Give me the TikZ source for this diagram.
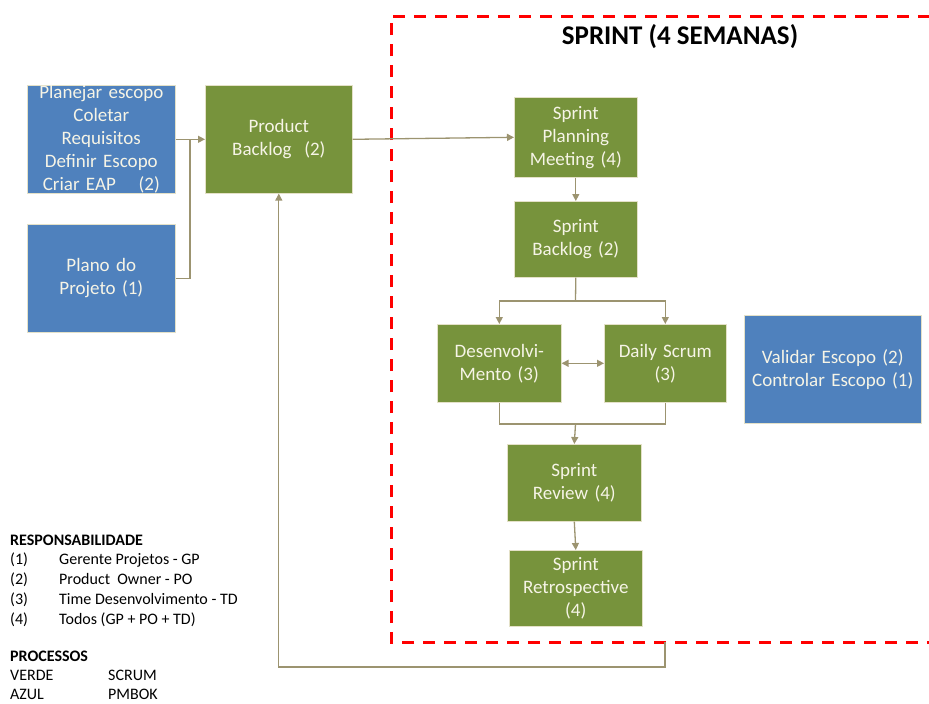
\documentclass[tikz,border=0pt]{standalone}
\usepackage{fontspec}
\setmainfont{Carlito}
\usetikzlibrary{arrows.meta}
\definecolor{sgreen}{HTML}{77933C}
\definecolor{sblue}{HTML}{4F81BD}
\definecolor{conn}{HTML}{9C9470}
\definecolor{txt}{HTML}{F6F4E6}
\definecolor{edge}{HTML}{E4E1C8}
\begin{document}
\begin{tikzpicture}[x=1pt,y=-1pt,
  boxbase/.style={anchor=north west, inner sep=0pt, align=center, text=txt,
    font=\fontsize{19}{23}\selectfont, draw=edge, line width=0.6pt},
  gbox/.style={boxbase, fill=sgreen},
  bbox/.style={boxbase, fill=sblue},
  wire/.style={draw=conn, line width=1.3pt},
  arr/.style={wire, -{Triangle[width=7pt,length=7pt]}},
  darr/.style={wire, {Triangle[width=7pt,length=7pt]}-{Triangle[width=7pt,length=7pt]}},
  legend/.style={anchor=base west, inner sep=0pt, font=\fontsize{16}{20}\selectfont},
  legendb/.style={legend, font=\bfseries\fontsize{16}{20}\selectfont}
]
\useasboundingbox (0,0) rectangle (929,704);

% sprint frame
\draw[red, line width=3pt, dash pattern=on 12pt off 9pt] (960,642) -- (391,642) -- (391,16) -- (960,16);
\node[font=\bfseries\fontsize{27}{30}\selectfont, inner sep=0pt] (title) at (680,37) {SPRINT (4 SEMANAS)};

% boxes
\node[bbox, minimum width=148pt, text width=148pt, minimum height=108pt] (plan) at (27,85)
  {Planejar escopo\\Coletar\\Requisitos\\Definir Escopo\\Criar EAP\hspace{1.2em}(2)};
\node[bbox, minimum width=148pt, text width=148pt, minimum height=108pt] (plano) at (27,224)
  {Plano do\\Projeto (1)};
\node[gbox, minimum width=147pt, text width=147pt, minimum height=108pt] (pb) at (205,85)
  {Product\\Backlog\ \ (2)};
\node[gbox, minimum width=123pt, text width=123pt, minimum height=80pt] (spm) at (514,97)
  {Sprint\\Planning\\Meeting (4)};
\node[gbox, minimum width=123pt, text width=123pt, minimum height=76pt] (sb) at (514,201)
  {Sprint\\Backlog (2)};
\node[gbox, minimum width=124pt, text width=124pt, minimum height=78pt] (dev) at (437,324)
  {Desenvolvi-\\Mento (3)};
\node[gbox, minimum width=122pt, text width=122pt, minimum height=78pt] (daily) at (604,324)
  {Daily Scrum\\(3)};
\node[bbox, minimum width=177pt, text width=177pt, minimum height=108pt] (val) at (744,315)
  {Validar Escopo (2)\\Controlar Escopo (1)};
\node[gbox, minimum width=134pt, text width=134pt, minimum height=77pt] (rev) at (507,444)
  {Sprint\\Review (4)};
\node[gbox, minimum width=133pt, text width=133pt, minimum height=76pt] (retro) at (509,550)
  {Sprint\\Retrospective\\(4)};

% connectors
\draw[arr] (plan.east) -- (pb.west);
\coordinate (pj) at (190,139);
\draw[wire] (plano.east) -| (pj);
\draw[arr] (pb.east) -- (spm.west);
\draw[arr] (spm.south) -- (sb.north);
\coordinate (fork) at (575.5,301);
\draw[wire] (sb.south) -- (fork);
\draw[arr] (fork) -| (dev.north);
\draw[arr] (fork) -| (daily.north);
\draw[darr] (dev.east) -- (daily.west);
\coordinate (join) at (575.5,424);
\draw[wire] (dev.south) |- (join) -| (daily.south);
\draw[arr] (join) -- (rev.north);
\draw[arr] (rev.south) -- (retro.north);
\coordinate (fb) at (665,642);
\coordinate (fbc) at (665,667);
\draw[arr] (fb) -- (fbc) -| (pb.south);

% legend
\node[legendb] (lr) at (10,545) {RESPONSABILIDADE};
\node[legend] (l1) at (10,564) {(1)};
\node[legend] (t1) at (59,564) {Gerente Projetos - GP};
\node[legend] (l2) at (10,584) {(2)};
\node[legend] (t2) at (59,584) {Product\ \ Owner - PO};
\node[legend] (l3) at (10,604) {(3)};
\node[legend] (t3) at (59,604) {Time Desenvolvimento - TD};
\node[legend] (l4) at (10,624) {(4)};
\node[legend] (t4) at (59,624) {Todos (GP + PO + TD)};
\node[legendb] (lp) at (10,661) {PROCESSOS};
\node[legend] (v1) at (10,680) {VERDE};
\node[legend] (v2) at (108,680) {SCRUM};
\node[legend] (a1) at (10,699) {AZUL};
\node[legend] (a2) at (108,699) {PMBOK};
\end{tikzpicture}
\end{document}
